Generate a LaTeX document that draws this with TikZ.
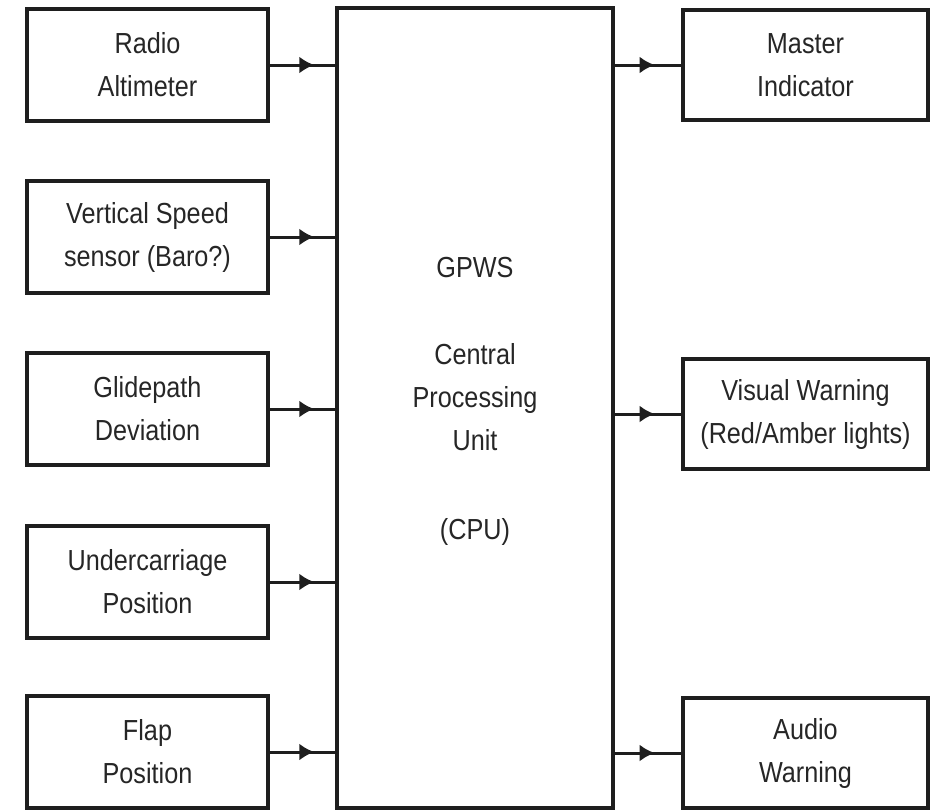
\documentclass[tikz,border=0pt]{standalone}
\usepackage{fontspec}
\setmainfont{Liberation Sans}[FakeStretch=0.87]
\usetikzlibrary{arrows.meta,decorations.markings}
\definecolor{ink}{HTML}{1E1E1E}
\definecolor{txt}{HTML}{262626}
\begin{document}
\begin{tikzpicture}[x=1pt,y=-1pt,
  blk/.style={draw=ink,line width=3.2pt,inner sep=0pt,align=center,
    text=txt,font=\fontsize{29}{43}\selectfont},
  lbox/.style={blk,minimum width=241pt,minimum height=112pt},
  rbox/.style={blk,minimum width=245pt,minimum height=110pt},
  inarrow/.style={draw=ink,line width=3pt,postaction={decorate},
    decoration={markings,mark=at position 0.68 with {\arrow{Latex[length=15pt,width=17pt]}}}},
  outarrow/.style={draw=ink,line width=3pt,postaction={decorate},
    decoration={markings,mark=at position 0.6 with {\arrow{Latex[length=15pt,width=17pt]}}}},
  lbl/.style={align=center,text=txt,inner sep=0pt,font=\fontsize{29}{43}\selectfont}]
\useasboundingbox (0,0) rectangle (937,811);
% central unit
\node[blk,minimum width=276pt,minimum height=800pt] (cpu) at (475,408) {};
\node[lbl] (cputext) at (475,401) {GPWS\\[44pt]Central\\Processing\\Unit\\[46pt](CPU)};
% inputs
\node[lbox] (ra) at (147.5,65) {Radio\\Altimeter};
\node[lbox] (vs) at (147.5,237) {Vertical Speed\\sensor (Baro?)};
\node[lbox] (gd) at (147.5,409) {Glidepath\\Deviation};
\node[lbox] (uc) at (147.5,582) {Undercarriage\\Position};
\node[lbox] (fp) at (147.5,752) {Flap\\Position};
% outputs
\node[rbox] (mi) at (805.5,65) {Master\\Indicator};
\node[rbox] (vw) at (805.5,414) {Visual Warning\\(Red/Amber lights)};
\node[rbox] (aw) at (805.5,753) {Audio\\Warning};
% connectors
\foreach \n in {ra,vs,gd,uc,fp}
  \path[inarrow] (\n.east) -- (\n.east -| cpu.west);
\foreach \n in {mi,vw,aw}
  \path[outarrow] (\n.west -| cpu.east) -- (\n.west);
\end{tikzpicture}
\end{document}
